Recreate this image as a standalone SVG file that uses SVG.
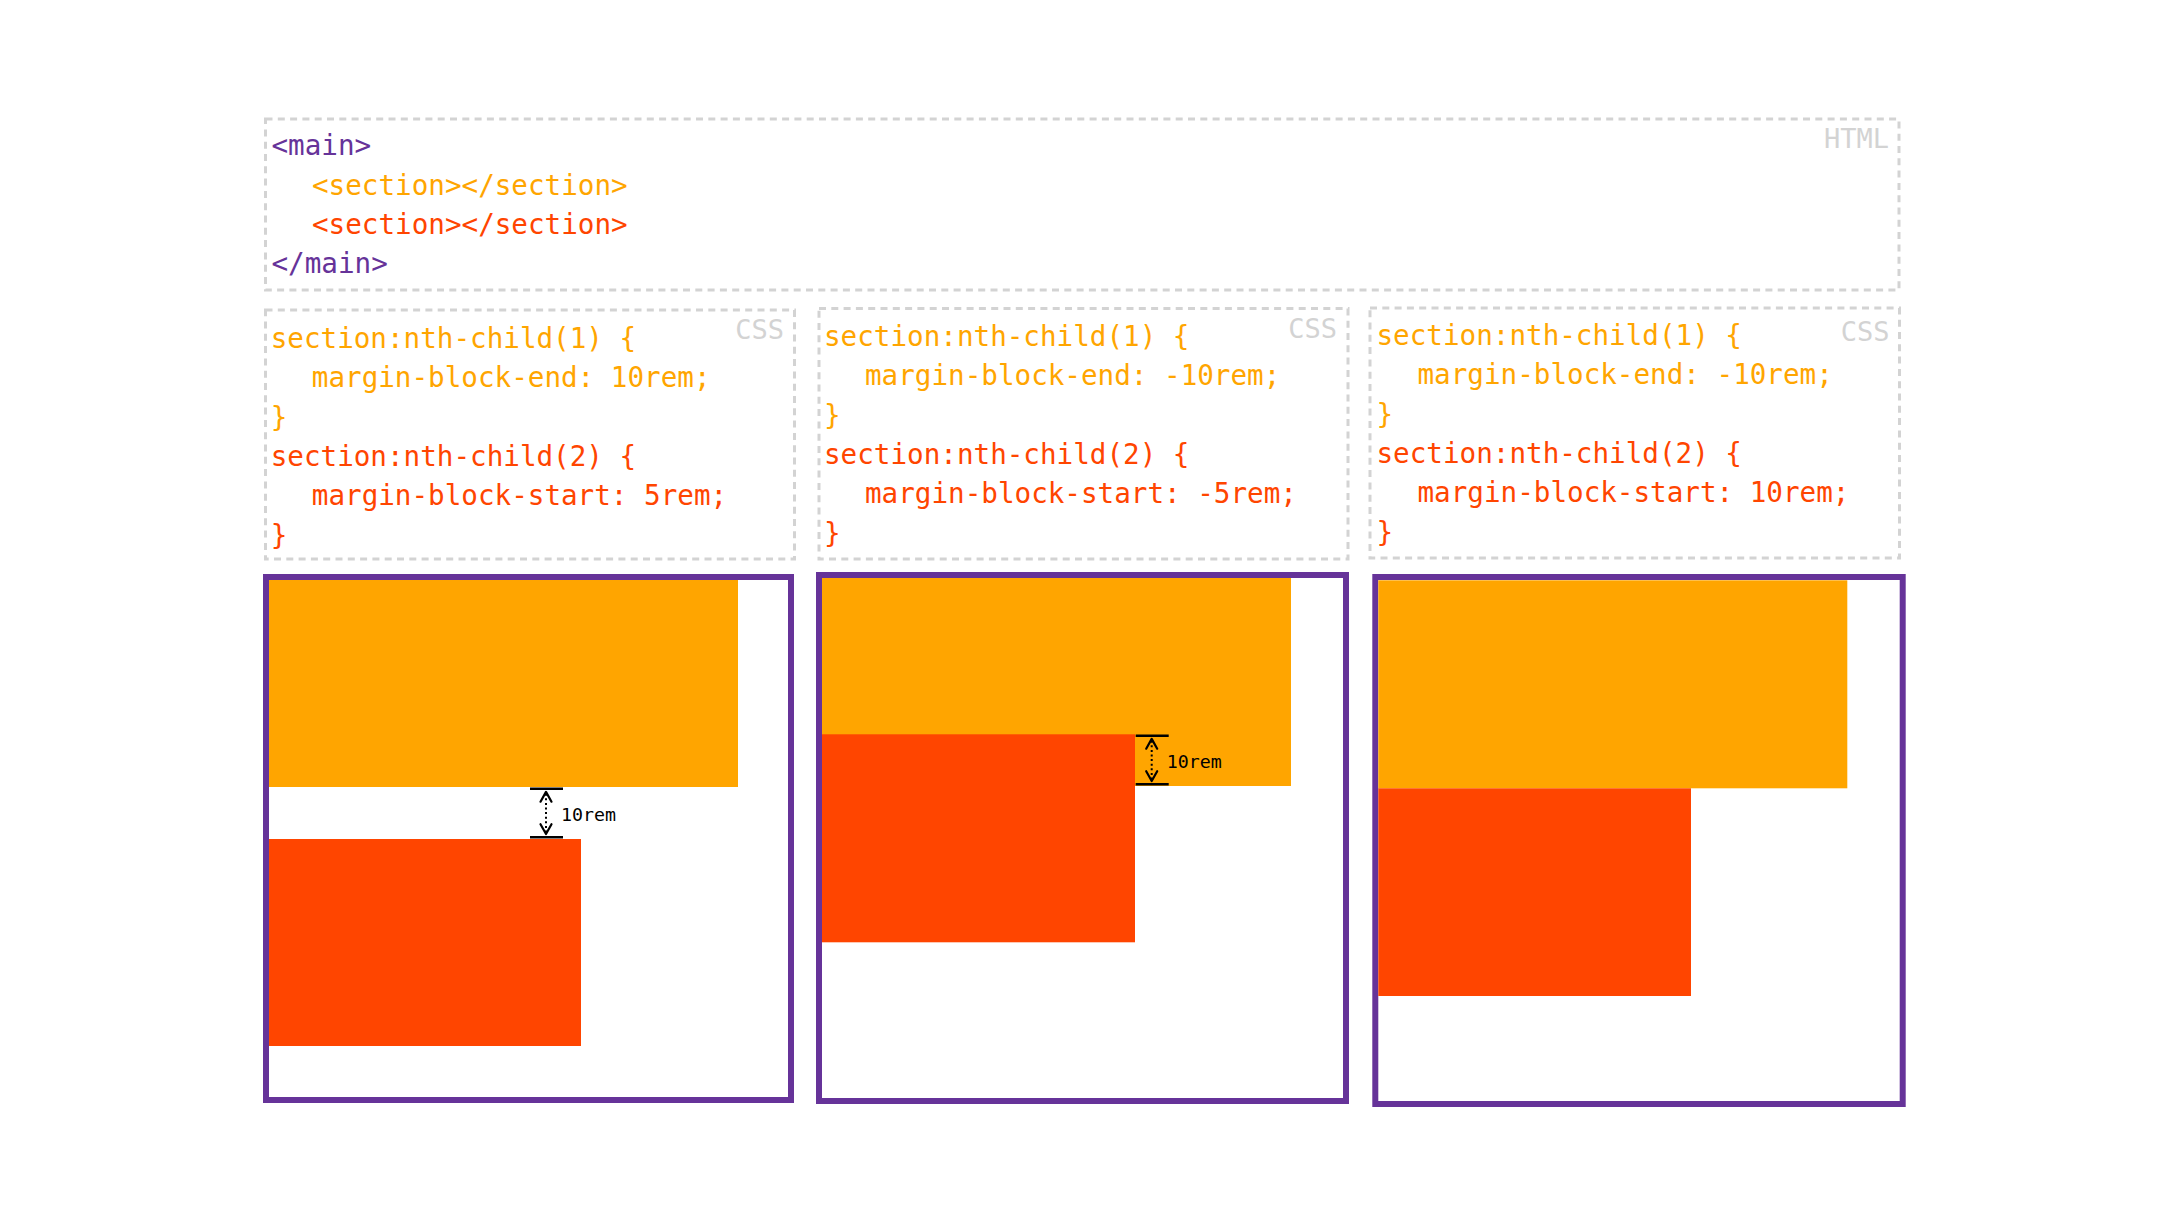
<svg xmlns="http://www.w3.org/2000/svg" xmlns:xlink="http://www.w3.org/1999/xlink" width="2170" height="1220" viewBox="0 0 2170 1220">
<style>
.dash{fill:none;stroke:#d3d3d3;stroke-width:3;stroke-dasharray:7 5.3}
.code{font-family:"DejaVu Sans Mono","Liberation Mono",monospace;font-size:27.6px}
.lbl{font-family:"DejaVu Sans Mono","Liberation Mono",monospace;font-size:27px;fill:#d3d3d3;text-anchor:end}
.pu{fill:#663399}
.or{fill:#ffa500}
.rd{fill:#ff4500}
.frame{fill:#ffffff;stroke:#663399;stroke-width:6}
.bar{stroke:#000;stroke-width:2.6;fill:none}
.dot{stroke:#000;stroke-width:2;stroke-dasharray:2 2.6;fill:none}
.chev{stroke:#000;stroke-width:2.2;fill:none;stroke-linecap:round;stroke-linejoin:round}
.dimt{font-family:"DejaVu Sans Mono","Liberation Mono",monospace;font-size:18.3px;fill:#000}
</style>
<defs>
<g id="dim">
<line class="bar" x1="0" y1="0" x2="33" y2="0"/>
<line class="bar" x1="0" y1="48.5" x2="33" y2="48.5"/>
<line class="dot" x1="16" y1="5" x2="16" y2="43.5"/>
<polyline class="chev" points="10.5,13 16,3.2 21.5,13"/>
<polyline class="chev" points="10.5,35.5 16,45.3 21.5,35.5"/>
<text class="dimt" x="31" y="32.5">10rem</text>
</g>
</defs>
<rect width="2170" height="1220" fill="#ffffff"/>

<g id="html-box">
<rect class="dash" x="265.5" y="119" width="1633.5" height="171"/>
<text class="lbl" x="1889" y="148">HTML</text>
<text class="code pu" x="271.5" y="155">&lt;main&gt;</text>
<text class="code or" x="312" y="195">&lt;section&gt;&lt;/section&gt;</text>
<text class="code rd" x="312" y="234">&lt;section&gt;&lt;/section&gt;</text>
<text class="code pu" x="271.5" y="273">&lt;/main&gt;</text>
</g>

<g id="css-1">
<rect class="dash" x="265.5" y="310" width="529" height="249"/>
<text class="lbl" x="784" y="339">CSS</text>
<text class="code or" x="270.7" y="348">section:nth-child(1) {</text>
<text class="code or" x="311.8" y="387.3">margin-block-end: 10rem;</text>
<text class="code or" x="270.7" y="426.6">}</text>
<text class="code rd" x="270.7" y="466">section:nth-child(2) {</text>
<text class="code rd" x="311.8" y="505.3">margin-block-start: 5rem;</text>
<text class="code rd" x="270.7" y="544.6">}</text>
</g>

<g id="css-2">
<rect class="dash" x="819" y="308.5" width="529" height="250.5"/>
<text class="lbl" x="1337" y="338">CSS</text>
<text class="code or" x="824" y="346">section:nth-child(1) {</text>
<text class="code or" x="865" y="385.3">margin-block-end: -10rem;</text>
<text class="code or" x="824" y="424.6">}</text>
<text class="code rd" x="824" y="464">section:nth-child(2) {</text>
<text class="code rd" x="865" y="503.3">margin-block-start: -5rem;</text>
<text class="code rd" x="824" y="542.6">}</text>
</g>

<g id="css-3">
<rect class="dash" x="1370" y="308" width="529.5" height="250"/>
<text class="lbl" x="1889.5" y="341">CSS</text>
<text class="code or" x="1376.5" y="345">section:nth-child(1) {</text>
<text class="code or" x="1417.5" y="384.3">margin-block-end: -10rem;</text>
<text class="code or" x="1376.5" y="423.6">}</text>
<text class="code rd" x="1376.5" y="463">section:nth-child(2) {</text>
<text class="code rd" x="1417.5" y="502.3">margin-block-start: 10rem;</text>
<text class="code rd" x="1376.5" y="541.6">}</text>
</g>

<g id="demo-1">
<rect class="frame" x="266" y="577" width="525" height="523"/>
<rect class="or" x="269" y="580" width="469" height="207"/>
<rect class="rd" x="269" y="839" width="312" height="207"/>
</g>

<g id="demo-2">
<rect class="frame" x="819" y="575" width="527" height="526"/>
<rect class="or" x="822" y="578" width="469" height="208"/>
<rect class="rd" x="822" y="734.3" width="313" height="208"/>
</g>

<g id="demo-3">
<rect class="frame" x="1375.3" y="577" width="527.4" height="527"/>
<rect class="or" x="1378.3" y="580.3" width="469" height="208"/>
<rect class="rd" x="1378.3" y="788.3" width="312.7" height="207.7"/>
</g>

<g id="connectors">
<use xlink:href="#dim" transform="translate(530,788.7)"/>
<use xlink:href="#dim" transform="translate(1135.7,735.7)"/>
</g>
</svg>
